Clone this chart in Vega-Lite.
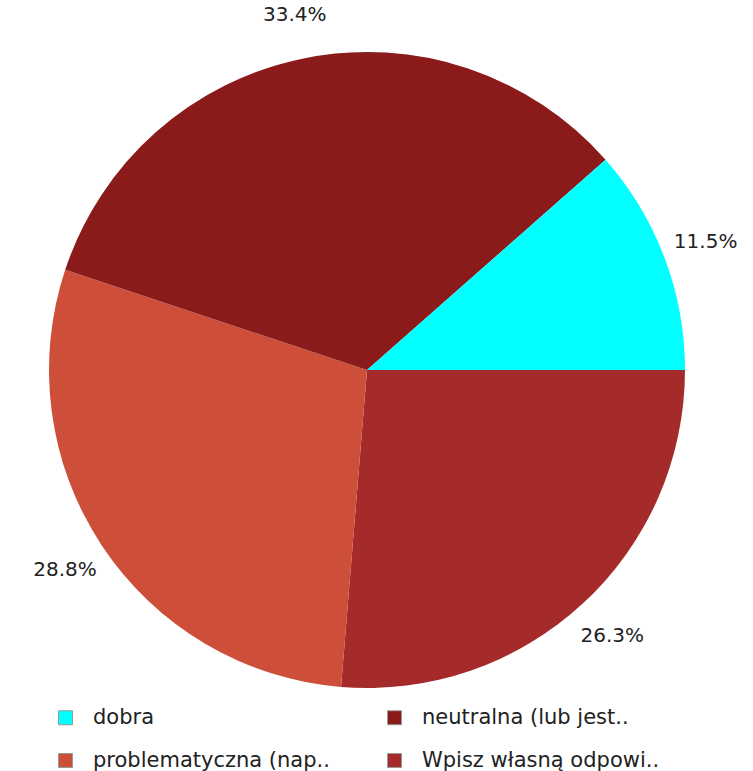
{
  "$schema": "https://vega.github.io/schema/vega-lite/v6.json",
  "autosize": {"type": "none"},
  "width": 734,
  "height": 740,
  "padding": {"left": 0, "top": 0, "right": 19, "bottom": 31},
  "background": "white",
  "config": {"view": {"stroke": null}, "font": "DejaVu Sans"},
  "data": {
    "values": [
      {"category": "Wpisz własną odpowi..", "share": 0.263, "idx": 0},
      {"category": "problematyczna (nap..", "share": 0.288, "idx": 1},
      {"category": "neutralna (lub jest..", "share": 0.334, "idx": 2},
      {"category": "dobra", "share": 0.115, "idx": 3}
    ]
  },
  "encoding": {
    "theta": {"field": "share", "type": "quantitative", "stack": true, "scale": {"range": [1.5708, 7.854]}},
    "order": {"field": "idx", "type": "quantitative"}
  },
  "layer": [
    {
      "mark": {"type": "arc", "outerRadius": 318},
      "encoding": {
        "color": {
          "field": "category",
          "type": "nominal",
          "scale": {
            "domain": ["dobra", "neutralna (lub jest..", "problematyczna (nap..", "Wpisz własną odpowi.."],
            "range": ["#00FFFF", "#8B1A1A", "#CD4F39", "#A52A2A"]
          },
          "legend": {
            "title": null,
            "orient": "none",
            "legendX": 55,
            "legendY": 707,
            "direction": "horizontal",
            "columns": 2,
            "columnPadding": 54,
            "rowPadding": 21,
            "symbolType": "square",
            "symbolSize": 196,
            "symbolStrokeColor": "#999999",
            "symbolStrokeWidth": 1,
            "symbolOpacity": 1,
            "labelFont": "DejaVu Sans",
            "labelFontSize": 21,
            "labelColor": "#222222",
            "labelOffset": 17,
            "labelLimit": 400,
            "padding": 0
          }
        }
      }
    },
    {
      "mark": {"type": "text", "radius": 362, "font": "DejaVu Sans", "fontSize": 20, "color": "#222222", "align": "center", "baseline": "middle"},
      "encoding": {
        "text": {"field": "share", "type": "quantitative", "format": ".1%"}
      }
    }
  ]
}
